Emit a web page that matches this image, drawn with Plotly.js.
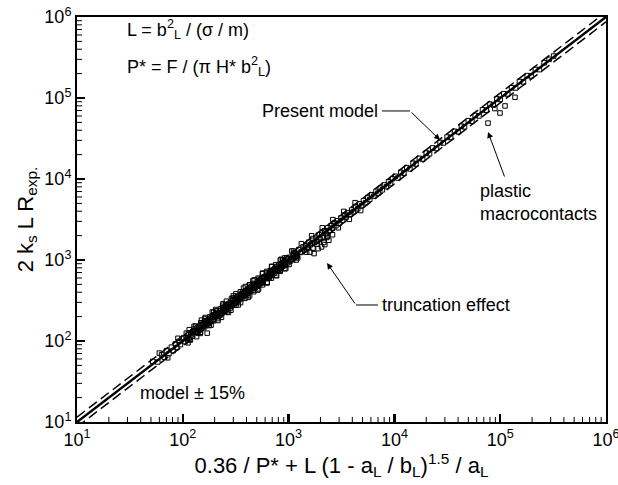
<!DOCTYPE html>
<html>
<head>
<meta charset="utf-8">
<script src="https://cdn.plot.ly/plotly-3.0.1.min.js"></script>
<style>html,body{margin:0;padding:0;background:#fff;}#chart{width:618px;height:485px;}</style>
</head>
<body>
<div id="chart"></div>
<script>
// ---- data ----
var xMeasured = [
  52,58,63,67,70,74,78,81,85,88,92,95,98,
  102,105,108,110,113,116,119,121,124,127,130,133,136,139,142,145,148,151,155,158,162,165,169,172,176,180,184,188,192,196,
  200,205,209,214,219,224,229,234,239,244,250,256,262,268,274,280,287,293,300,307,314,321,328,336,343,351,359,367,375,384,393,
  402,411,420,430,440,450,460,470,481,492,503,514,526,538,550,563,575,588,602,615,629,643,658,673,688,704,720,736,753,770,787,
  805,823,842,861,880,900,920,941,962,984,
  153,167,183,197,212,227,243,258,277,296,318,340,362,387,412,438,466,495,525,556,590,625,662,700,742,785,830,880,930,985,1040,1100,1160,
  125,141,157,174,191,208,226,247,266,289,312,335,358,383,409,435,463,492,522,553,586,618,652,690,
  60,72,90,112,128,146,163,185,205,232,258,285,318,352,390,428,472,520,570,628,690,760,835,920,
  108,118,132,147,161,178,196,216,238,262,289,318,350,386,425,468,515,567,624,687,757,833,917,1010,1110,1220,
  115,135,150,170,190,215,240,270,300,335,375,415,460,510,565,625,695,770,850,940,
  1010,1030,1060,1090,1120,1150,1180,1210,1250,1290,1330,1370,1410,1450,1500,1550,1600,1650,1700,1760,1820,1880,1940,2000,
  2060,2130,2200,2270,2350,2430,2520,2600,2700,2800,2900,3000,3120,3250,3380,3500,3650,3800,3950,4100,4300,4500,4700,4900,
  5100,5350,5600,5850,6100,6400,6700,7000,7350,7700,8050,8400,8800,9200,9600,
  1070,1180,1320,1480,1650,1850,2080,2330,2620,2950,3320,3750,4250,4800,
  1590,1740,2050,2200,2150,1900,2400,2300,2600,1700,
  10200,10800,11500,12300,13100,14000,15000,16000,17200,18500,20000,21500,23000,25000,27000,29000,31500,34000,37000,40000,
  43000,46000,50000,54000,58000,63000,68000,74000,80000,86000,93000,100000,108000,118000,128000,140000,152000,166000,180000,
  196000,215000,235000,260000,290000,320000,
  76700,99500,111000,138000,89000
];
var yMeasured = [
  56,55,68,63,76,70,84,76,92,83,99,90,106,
  110,98,111,106,125,104,125,120,115,140,131,128,145,126,146,142,168,143,155,146,177,155,178,170,164,198,186,180,205,178,
  206,200,237,203,219,207,251,220,246,240,232,281,265,257,292,255,295,287,340,292,314,297,360,315,354,347,334,404,379,369,420,
  366,423,412,490,418,450,425,515,452,507,498,478,578,543,528,602,523,605,590,700,598,643,608,740,645,725,713,684,830,777,755,
  861,749,866,844,1000,855,920,870,1060,925,
  160,162,175,210,226,215,262,249,268,318,305,330,383,401,396,462,452,478,551,540,621,603,690,678,776,760,802,915,900,1030,1005,1150,1115,
  131,137,152,183,197,199,238,241,279,280,327,325,372,368,430,421,487,475,545,532,610,597,682,668,
  71,62,108,95,152,124,195,157,245,196,310,240,382,298,470,362,567,440,690,530,830,645,1000,780,
  125,103,153,128,187,155,226,189,276,228,335,276,405,336,493,406,597,493,724,597,877,725,1060,880,1290,1060,
  138,113,181,125,228,179,288,225,360,279,450,346,552,425,678,520,834,640,1020,785,
  1080,960,1040,1010,1220,1090,1180,1120,1350,1240,1260,1450,1330,1500,1420,1660,1540,1600,1840,1650,1900,1700,2050,1820,
  2150,1900,2290,2100,2500,2320,2650,2480,2860,2650,3050,2850,3300,3100,3600,3380,3850,3650,4150,3950,4550,4300,4950,4700,
  5400,5100,5900,5600,6400,6150,7050,6700,7700,7350,8450,8050,9250,8800,10100,
  1290,1000,1590,1250,1990,1570,2500,1980,3150,2500,3980,3180,5100,4080,
  1250,1200,1450,1550,1650,1380,1750,1900,2050,1400,
  10800,10300,12100,11800,13800,13300,15700,15300,18000,17600,21000,20500,24200,23800,28300,27800,33000,32500,38800,38200,
  45000,44000,52500,51500,61000,60000,71500,70500,84000,82000,97500,96000,113000,112000,134000,133000,160000,158000,189000,
  187000,225000,224000,272000,300000,330000,
  49000,65300,79800,102000,74000
];
// model line and +/- 15 % band
var modelX = [10, 1000000];
var modelY = [10, 1000000];
var bandUpperY = [11.5, 1150000];
var bandLowerY = [8.7, 869565];
// tick labels
var tickValues = [10, 100, 1000, 10000, 100000, 1000000];
var tickLabels = ['10<sup>1</sup>','10<sup>2</sup>','10<sup>3</sup>','10<sup>4</sup>','10<sup>5</sup>','10<sup>6</sup>'];

var FONT = '"Liberation Sans", Arial, Helvetica, sans-serif';

// minor log ticks (2..9 in each decade), drawn as short strokes anchored on the axes' domains
var minorShapes = [];
for (var d = 10; d < 1000000; d *= 10) {
  for (var k = 2; k <= 9; k++) {
    var p = (Math.log10(d * k) - 1) / 5;
    minorShapes.push({type: 'line', xref: 'x domain', yref: 'y domain', x0: p, x1: p, y0: 0, y1: 0.0125,
                      line: {color: '#000', width: 1}, layer: 'above'});
    minorShapes.push({type: 'line', xref: 'x domain', yref: 'y domain', x0: 0, x1: 0.0095, y0: p, y1: p,
                      line: {color: '#000', width: 1}, layer: 'above'});
  }
}

var traces = [
  {x: modelX, y: bandUpperY, mode: 'lines', type: 'scatter', line: {color: '#000', width: 1.5, dash: '10px,5px'}},
  {x: modelX, y: bandLowerY, mode: 'lines', type: 'scatter', line: {color: '#000', width: 1.5, dash: '10px,5px'}},
  {x: modelX, y: modelY, mode: 'lines', type: 'scatter', line: {color: '#000', width: 2.5}},
  {x: xMeasured, y: yMeasured, mode: 'markers', type: 'scatter',
   marker: {symbol: 'square-open', size: 4.5, color: '#000', line: {width: 1, color: '#000'}}}
];

function mainAxis(titleText, standoff) {
  return {
    type: 'log', range: [1, 6], autorange: false,
    tickmode: 'array', tickvals: tickValues, ticktext: tickLabels,
    ticks: 'inside', ticklen: 8, tickwidth: 2.5, tickcolor: '#000',
    ticklabeloverflow: 'allow',
    showline: true, linewidth: 2, linecolor: '#000', mirror: true,
    showgrid: false, zeroline: false,
    tickfont: {family: FONT, size: 18, color: '#000'},
    title: {text: titleText, font: {family: FONT, size: 22, color: '#000'}, standoff: standoff}
  };
}

var annFont = {family: FONT, size: 18, color: '#000'};
var layout = {
  width: 618, height: 485,
  margin: {l: 77, r: 12, t: 17, b: 63, pad: 0},
  paper_bgcolor: '#fff', plot_bgcolor: '#fff',
  showlegend: false,
  xaxis: mainAxis('0.36 / P* + L (1 - a<sub>L</sub> / b<sub>L</sub>)<sup>1.5</sup> / a<sub>L</sub>', 3),
  yaxis: mainAxis('2 k<sub>s</sub> L R<sub>exp.</sub>', 5),
  shapes: [
    {type: 'line', xref: 'paper', yref: 'paper', x0: 0.5766, x1: 0.6295, y0: 0.768, y1: 0.768, line: {color: '#000', width: 1}},
    {type: 'line', xref: 'paper', yref: 'paper', x0: 0.5274, x1: 0.569, y0: 0.2889, y1: 0.2889, line: {color: '#000', width: 1}}
  ].concat(minorShapes),
  annotations: [
    {xref: 'paper', yref: 'paper', x: 0.0907, y: 0.968, xanchor: 'left', yanchor: 'middle', showarrow: false,
     text: 'L = b<sup>2</sup><sub>L</sub> / (σ / m)', font: annFont},
    {xref: 'paper', yref: 'paper', x: 0.0907, y: 0.877, xanchor: 'left', yanchor: 'middle', showarrow: false,
     text: 'P* = F / (π H* b<sup>2</sup><sub>L</sub>)', font: annFont},
    {xref: 'paper', yref: 'paper', x: 0.573, y: 0.768, xanchor: 'right', yanchor: 'middle', showarrow: false,
     text: 'Present model', font: annFont},
    {xref: 'paper', yref: 'paper', x: 0.6862, y: 0.6963, ax: -30, ay: -29, text: '', showarrow: true,
     arrowhead: 2, arrowsize: 1.2, arrowwidth: 1, arrowcolor: '#000'},
    {xref: 'paper', yref: 'paper', x: 0.758, y: 0.543, xanchor: 'left', yanchor: 'middle', align: 'left', showarrow: false,
     text: 'plastic<br>macrocontacts', font: annFont},
    {xref: 'paper', yref: 'paper', x: 0.777, y: 0.716, ax: 17, ay: 46, text: '', showarrow: true,
     arrowhead: 2, arrowsize: 1.2, arrowwidth: 1, arrowcolor: '#000'},
    {xref: 'paper', yref: 'paper', x: 0.5728, y: 0.2889, xanchor: 'left', yanchor: 'middle', showarrow: false,
     text: 'truncation effect', font: annFont},
    {xref: 'paper', yref: 'paper', x: 0.4726, y: 0.3926, ax: 29, ay: 42, text: '', showarrow: true,
     arrowhead: 2, arrowsize: 1.2, arrowwidth: 1, arrowcolor: '#000'},
    {xref: 'paper', yref: 'paper', x: 0.1153, y: 0.0716, xanchor: 'left', yanchor: 'middle', showarrow: false,
     text: 'model ± 15%', font: annFont}
  ]
};

Plotly.newPlot('chart', traces, layout, {staticPlot: true, displayModeBar: false});
</script>
</body>
</html>
